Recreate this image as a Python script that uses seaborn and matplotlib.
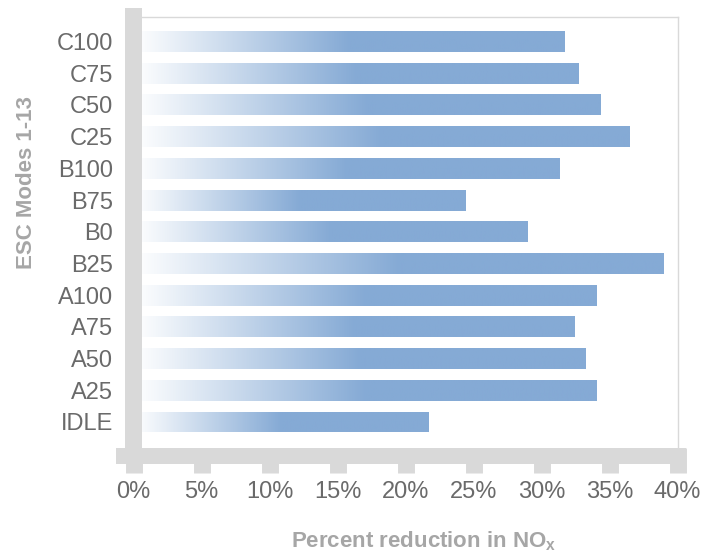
import numpy as np
import pandas as pd
import matplotlib
matplotlib.use("Agg")
import matplotlib.pyplot as plt
from matplotlib.colors import LinearSegmentedColormap
from matplotlib.patches import Rectangle
import seaborn as sns

# data (percent reduction in NOx per ESC mode)
modes = ["C100", "C75", "C50", "C25", "B100", "B75", "B0", "B25",
         "A100", "A75", "A50", "A25", "IDLE"]
reduction = [31.65, 32.7, 34.3, 36.4, 31.3, 24.4, 28.9, 38.9,
             34.0, 32.4, 33.2, 34.0, 21.65]
xticks = [0, 5, 10, 15, 20, 25, 30, 35, 40]
xtick_labels = ["0%", "5%", "10%", "15%", "20%", "25%", "30%", "35%", "40%"]

df = pd.DataFrame({"mode": modes, "reduction": reduction})

sns.set_style("white")
plt.rcParams["font.family"] = ["Liberation Sans", "DejaVu Sans"]
plt.rcParams["mathtext.fontset"] = "custom"
plt.rcParams["mathtext.rm"] = "Liberation Sans"
plt.rcParams["mathtext.bf"] = "Liberation Sans:bold"

blue = "#85aad5"
grey = "#d9d9d9"
text_grey = "#6a6a6a"
label_grey = "#a6a6a6"

fig = plt.figure(figsize=(7.17, 5.54), dpi=100)
ax = fig.add_axes([133.5 / 717, 1 - 448 / 554, 544 / 717, 431 / 554])

sns.barplot(data=df, x="reduction", y="mode", orient="h", color=blue,
            width=0.66, ax=ax, saturation=1)

# white -> blue gradient over first half of each bar
cmap = LinearSegmentedColormap.from_list("wb", ["#ffffff", blue])
grad = np.clip(np.linspace(0, 2, 256), 0, 1).reshape(1, -1)
for p in list(ax.patches):
    x0, y0 = p.get_x(), p.get_y()
    w, h = p.get_width(), p.get_height()
    im = ax.imshow(grad, cmap=cmap, vmin=0, vmax=1, aspect="auto",
                   extent=[x0, x0 + w, y0 + h, y0], zorder=2,
                   interpolation="bilinear")
    im.set_clip_path(p)

ax.set_xlim(0, 40)
ax.set_ylim(12.82, -0.773)
ax.set_xticks(xticks)
ax.set_xticklabels(xtick_labels)
ax.set_xlabel("")
ax.set_ylabel("")

for s in ["left", "bottom"]:
    ax.spines[s].set_visible(False)
for s in ["top", "right"]:
    ax.spines[s].set_color(grey)
    ax.spines[s].set_linewidth(1)

ax.tick_params(axis="x", bottom=True, length=18, width=12.2, color=grey, pad=6,
               labelsize=17, labelcolor=text_grey, direction="out")
ax.tick_params(axis="y", left=False, length=0, pad=14.5, labelsize=17,
               labelcolor=text_grey)

# thick grey axis bars
ax.add_patch(Rectangle((-0.0156, -0.0371), 0.0312, 1.058, transform=ax.transAxes,
                       color=grey, clip_on=False, zorder=5, lw=0))
ax.add_patch(Rectangle((-0.0322, -0.0371), 1.0478, 0.0371, transform=ax.transAxes,
                       color=grey, clip_on=False, zorder=5, lw=0))

fig.text(27 / 717, 1 - 183 / 554, "ESC Modes 1-13", rotation=90, ha="center",
         va="center", fontsize=16, fontweight="bold", color=label_grey)
fig.text(424 / 717, 1 - 547 / 554, r"Percent reduction in NO$_\mathbf{x}$",
         ha="center", va="baseline", fontsize=16, fontweight="bold",
         color=label_grey)

fig.savefig("out.png", dpi=100)
